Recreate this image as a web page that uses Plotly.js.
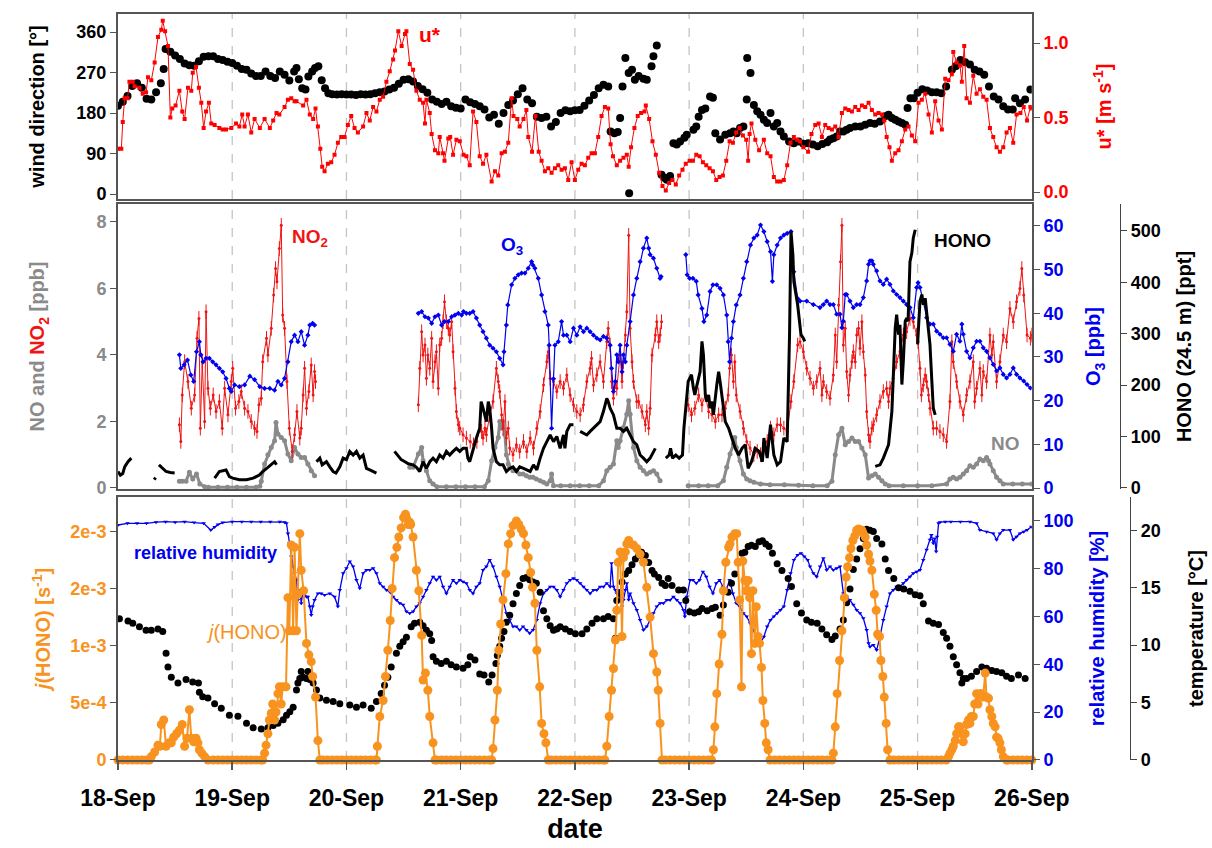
<!DOCTYPE html>
<html>
<head>
<meta charset="utf-8">
<script src="https://cdn.plot.ly/plotly-3.0.1.min.js"></script>
<style>html,body{margin:0;padding:0;background:#fff;}#chart{width:1212px;height:848px;}</style>
</head>
<body>
<div id="chart"></div>
<script>
// ---------- DATA (time = hours after 18-Sep 00:00) ----------
const dayTicks = [0, 24, 48, 72, 96, 120, 144, 168, 192];
const dayLabels = ['18-Sep','19-Sep','20-Sep','21-Sep','22-Sep','23-Sep','24-Sep','25-Sep','26-Sep'];

// wind direction [deg]
const windDir = [[0,196],[1,205],[2,218],[3,240],[4,246],[5,236],[6,212],[7,210],[8,226],[9,246],[9.6,278],[10,322],[11,316],[12,308],[13,300],[14,290],[15,286],[16,285],[17,295],[18,305],[19,306],[20,306],[21,300],[22,298],[23,294],
[24,291],[25,285],[26,278],[27,276],[28,268],[29,262],[30,262],[31,272],[32,262],[33,258],[34,272],[35,265],[36,252],[37,272],[37.5,280],[38,255],[38.7,235],[39.4,232],[40,261],[40.8,272],[41.4,280],[42.1,284],[42.8,253],[43.5,235],[44.2,224],[45,222],[46,221],[47,222],
[48,221],[49,221],[50,220],[51,222],[52,221],[53,222],[54,224],[55,226],[56,228],[57,232],[58,236],[59,245],[60,254],[61,255],[62,250],[63,240],[64,233],[65,225],[66,210],[67,205],[68,200],[69,205],[70,195],[71,192],
[72,190],[73,210],[74,204],[75,200],[76,195],[77,188],[78,170],[79,176],[80,156],[81,180],[82,198],[83,208],[84,222],[85,235],[86,210],[87,202],[88,172],[89,169],[90,172],[91,150],[92,160],[93,180],[94,186],[95,184],
[96,186],[97,187],[98,196],[99,208],[100,220],[101,235],[102,243],[103,239],[103.5,139],[104.3,135],[105,138],[105.5,169],[106,239],[106.6,302],[107.3,269],[107.4,2],[108,276],[108.6,254],[109.4,262],[110.4,256],[111.1,254],[112.1,284],[112.5,306],[113.2,330],[114.2,43],[114.8,36],[115.3,32],[116,40],[116.7,113],[117.4,110],[118.1,117],[119,125],[119.5,132],
[120.9,143],[121.5,150],[122,172],[122.7,187],[123.4,190],[124.4,217],[125,214],[125.5,135],[126.5,121],[127.6,132],[128.6,135],[129.3,139],[130,135],[130.7,147],[131.4,150],[132.1,210],[132.2,302],[132.9,269],[133.6,198],[134.3,184],[135,176],[135.7,165],[136.4,158],[137.1,180],[137.8,150],[138.5,158],[139.2,139],[139.9,128],[141,117],[142,113],[143,117],[144,112],
[145,113],[146,110],[147,106],[148,111],[149,115],[149.6,121],[150.3,124],[151,128],[151.7,139],[152.4,139],[153.1,143],[153.8,147],[154.9,150],[156,150],[157,154],[158,158],[159,156],[160.1,161],[161.2,173],[161.9,176],[162.6,169],[163.3,165],[164,161],[164.7,158],[165.4,154],[165.9,191],[166.5,213],[167.2,213],[168,225],[169,233],[170,230],[171,226],[172,226],[173,224],[174,239],[175.2,276],[176,284],[177,298],[178,293],[179,288],[180,276],[181,272],[182,265],[183,239],[184,217],[185,210],[186,195],[187,188],[188,188],[188.5,213],[189.5,202],[190.6,210],[191.7,232]];

// friction velocity u* [m/s]
const uStar = [[0,0.29],[0.7,0.29],[1,0.47],[1.4,0.63],[2,0.63],[2.4,0.74],[3.1,0.74],[3.5,0.71],[4.5,0.70],[5.2,0.66],[5.9,0.67],[6.3,0.77],[7,0.75],[7.7,0.87],[8.4,1.04],[9.1,1.09],[9.4,1.15],[9.9,1.08],[10.5,0.98],[11,0.50],[11.4,0.56],[12.1,0.58],[12.9,0.68],[13.5,0.54],[14,0.49],[14.7,0.70],[15.4,0.68],[15.7,0.80],[16.4,0.84],[17,0.70],[17.5,0.60],[18,0.43],[18.5,0.54],[19.1,0.60],[19.6,0.46],[20.3,0.45],[21.3,0.43],[22,0.42],[22.7,0.42],[23.8,0.43],[24.8,0.46],[25.5,0.44],[26.1,0.52],[26.6,0.44],[27.3,0.52],[28,0.40],[28.7,0.49],[29.8,0.43],[30.8,0.49],[31.9,0.43],[32.6,0.48],[33.3,0.53],[33.9,0.52],[35,0.57],[35.7,0.62],[36.4,0.63],[37.1,0.61],[37.5,0.61],[38.9,0.58],[39.6,0.62],[40.3,0.52],[41,0.49],[41.5,0.56],[42,0.44],[42.5,0.29],[42.9,0.17],[43.4,0.14],[44.1,0.19],[44.8,0.20],[45.5,0.25],[46.2,0.33],[46.9,0.37],[47.6,0.37],[48.3,0.45],[49,0.51],[49.7,0.43],[50.4,0.40],[51.5,0.44],[52.2,0.53],[52.9,0.48],[53.6,0.57],[54.3,0.54],[55,0.62],[55.7,0.64],[56.4,0.74],[57.1,0.81],[57.8,0.89],[58.2,0.95],[58.9,1.08],[59.6,0.98],[60.3,1.06],[60.6,1.08],[61.3,0.86],[62,0.82],[62.7,0.68],[63.4,0.62],[64.1,0.60],[64.5,0.46],[64.8,0.62],[65.5,0.53],[65.9,0.39],[66.6,0.28],[67.3,0.26],[67.6,0.37],[68.3,0.26],[68.6,0.21],[69.4,0.36],[69.8,0.37],[70.4,0.25],[71.1,0.35],[71.8,0.34],[72.6,0.25],[73.2,0.24],[73.9,0.18],[74.6,0.54],[75.3,0.47],[76,0.24],[76.7,0.19],[77.4,0.25],[78.5,0.07],[79.2,0.14],[79.9,0.11],[80.6,0.26],[81.3,0.27],[82,0.33],[82.7,0.63],[83.1,0.51],[83.9,0.49],[84.4,0.44],[85.2,0.49],[85.8,0.55],[86.2,0.37],[87,0.27],[87.7,0.51],[88.4,0.27],[89,0.21],[89.7,0.14],[90.4,0.16],[91.1,0.13],[91.8,0.16],[92.5,0.18],[93.2,0.15],[93.9,0.16],[94.6,0.08],[95.3,0.20],[96,0.08],[96.7,0.15],[97.4,0.19],[98.1,0.18],[98.8,0.23],[99.5,0.26],[100.2,0.26],[100.9,0.37],[101.6,0.51],[102.3,0.57],[103,0.56],[103.5,0.32],[104,0.24],[104.8,0.18],[105.5,0.21],[106.2,0.23],[106.9,0.25],[107.3,0.17],[107.8,0.30],[108.5,0.43],[109.2,0.51],[109.9,0.53],[110.6,0.54],[110.9,0.58],[111.6,0.49],[112.3,0.34],[113,0.25],[113.7,0.13],[114.4,0.04],[115.1,0.01],[115.8,0.06],[116.5,0.08],[117.2,0.05],[117.9,0.11],[118.6,0.15],[119.3,0.19],[120.1,0.21],[120.8,0.21],[121.5,0.25],[122.2,0.24],[122.9,0.20],[123.6,0.18],[124.3,0.16],[125,0.14],[125.7,0.08],[126.4,0.10],[127.1,0.11],[127.8,0.21],[128.5,0.34],[129.2,0.33],[129.9,0.40],[130.6,0.43],[131.3,0.38],[132,0.35],[132.4,0.21],[132.7,0.39],[133.1,0.46],[133.9,0.35],[134.7,0.28],[135.7,0.35],[136.4,0.26],[137.1,0.24],[137.8,0.10],[138.5,0.07],[139.2,0.07],[139.9,0.08],[140.6,0.18],[141.3,0.33],[142,0.37],[142.7,0.35],[143.3,0.34],[144,0.30],[145,0.27],[145.7,0.39],[146.5,0.45],[147.2,0.46],[147.9,0.37],[148.6,0.45],[149.3,0.43],[150,0.42],[150.7,0.44],[151.4,0.37],[152.1,0.53],[152.8,0.56],[153.5,0.55],[154.2,0.54],[154.9,0.57],[155.6,0.55],[156.3,0.58],[157,0.57],[157.7,0.60],[158.4,0.55],[159.1,0.52],[159.8,0.53],[160.5,0.52],[161,0.48],[161.5,0.37],[162.1,0.30],[162.6,0.21],[163.3,0.26],[164,0.28],[164.7,0.34],[165.4,0.42],[166.1,0.44],[166.8,0.38],[167.5,0.34],[168.2,0.60],[168.9,0.62],[169.6,0.66],[170.3,0.52],[171,0.40],[171.7,0.61],[172.4,0.48],[173.1,0.42],[173.8,0.76],[174.5,0.75],[175.2,0.79],[175.5,0.94],[176.2,0.87],[176.9,0.85],[177.3,0.74],[177.8,0.98],[178.3,0.63],[179,0.60],[179.7,0.78],[180.4,0.66],[181.1,0.69],[181.8,0.64],[182.5,0.62],[183.2,0.43],[183.9,0.37],[184.6,0.30],[185.3,0.27],[186,0.30],[186.7,0.40],[187.4,0.43],[188.1,0.33],[188.8,0.52],[189.6,0.53],[190.3,0.57],[191,0.48],[191.7,0.57],[192,0.56]];

// NO2 [ppb]
const no2 = [[12.9,1.9],[13.2,1.4],[13.5,2.8],[14,3.8],[14.7,3.2],[15.4,2.4],[16.1,2.8],[16.6,4.5],[17,5.1],[17.3,1.8],[17.7,3.8],[18.2,2.0],[18.5,5.3],[18.9,3.0],[19.4,2.4],[20,2.8],[20.6,2.3],[21.3,2.6],[21.9,1.8],[22.4,3.0],[23.1,2.2],[23.8,3.2],[24.1,3.6],[24.7,2.4],[25.4,2.6],[25.9,2.9],[26.6,2.4],[27.3,2.3],[28,2.0],[28.7,1.8],[29.2,1.7],[29.6,2.5],[30.1,2.7],[30.4,3.8],[31.2,4.5],[31.5,4.0],[32.2,4.8],[32.7,5.8],[33.1,6.6],[33.4,6.2],[33.9,7.2],[34.3,7.9],[34.6,5.2],[35,4.8],[35.5,3.2],[36,1.8],[36.6,1.1],[37.1,1.6],[37.6,2.3],[38.2,1.5],[38.5,1.8],[38.9,2.8],[39.2,3.6],[39.6,2.4],[40.1,2.9],[40.6,3.7],[41,2.8],[41.3,3.5],[41.5,3.2],[42,null],
[63.1,2.5],[63.4,3.6],[63.8,4.7],[64.1,4.0],[64.5,4.3],[64.8,3.3],[65.1,4.0],[65.5,3.6],[65.9,4.5],[66.2,3.2],[66.6,3.8],[66.9,4.1],[67.3,3.0],[67.6,4.3],[68,4.5],[68.3,5.0],[68.6,5.6],[69,5.0],[69.4,4.8],[69.7,4.6],[70.1,5.0],[70.4,4.1],[70.8,3.0],[71.1,2.3],[71.5,1.9],[71.8,1.8],[72.5,1.6],[73.2,1.5],[74,1.4],[74.7,1.3],[75.4,1.4],[76.1,1.9],[76.4,1.7],[76.7,1.5],[77.1,1.8],[77.4,1.6],[78.1,2.2],[78.8,2.6],[79.5,3.6],[79.9,3.2],[80.2,2.9],[80.6,2.2],[80.9,1.8],[81.3,2.6],[81.6,1.5],[82,1.8],[82.3,1.2],[83,1.0],[83.7,1.3],[84.4,1.1],[85.2,1.4],[85.9,1.1],[86.6,1.5],[87.3,1.2],[88,1.8],[88.7,2.3],[89.4,3.1],[90.1,3.8],[90.4,4.1],[90.8,3.3],[91.5,3.2],[92.2,2.9],[92.9,3.2],[93.6,3.0],[94.3,3.4],[95,2.8],[95.7,2.5],[96.4,2.3],[97.1,2.2],[97.8,2.5],[98.5,3.2],[99.2,3.6],[99.5,3.9],[99.9,3.1],[100.6,3.4],[101.3,3.8],[102,3.2],[102.7,4.4],[103,4.8],[103.4,4.3],[103.7,3.2],[104.1,2.7],[104.5,3.2],[104.8,3.0],[105.5,4.0],[105.9,3.2],[106.2,3.8],[106.6,4.6],[106.9,5.3],[107.3,7.6],[107.6,4.8],[108,3.8],[108.3,3.2],[109,2.6],[109.4,2.6],[110.1,2.3],[110.8,1.9],[111.1,2.3],[111.5,1.8],[111.8,2.4],[112.2,4.0],[112.9,4.6],[113.2,5.0],[113.6,4.4],[113.9,4.6],[114.2,5.0],[115,null],
[119.8,2.5],[120.5,2.2],[121.2,2.4],[122,2.8],[122.7,2.5],[123.4,2.8],[124.1,2.3],[124.8,2.2],[125.5,2.0],[126.2,2.2],[126.9,2.2],[127.6,2.4],[128.2,2.8],[128.5,3.6],[128.9,4.0],[129.3,3.2],[129.6,3.8],[129.9,2.8],[130.7,2.3],[131.4,1.8],[132.1,1.4],[132.8,1.2],[133.6,1.0],[134.3,1.1],[135,1.0],[135.7,1.2],[136.4,1.4],[137.1,1.8],[137.8,1.6],[138.5,1.9],[139.2,1.9],[139.9,1.8],[140.6,1.7],[141.4,2.6],[142,3.2],[142.8,4.3],[143.3,4.4],[144,4.1],[144.7,3.6],[145.4,3.3],[146.1,3.0],[146.8,3.2],[147.5,3.6],[147.9,2.8],[148.2,3.2],[148.9,2.9],[149.6,2.7],[150.3,3.4],[150.7,4.6],[151,3.8],[151.4,5.5],[151.8,6.8],[152.1,7.9],[152.4,4.3],[152.8,4.8],[153.1,3.5],[153.5,2.8],[153.8,3.4],[154.2,3.8],[154.5,4.1],[154.9,3.8],[155.2,4.6],[155.6,4.8],[155.9,4.2],[156.3,5.0],[156.6,4.1],[157,3.4],[157.3,2.3],[157.7,1.6],[158,1.4],[158.4,1.8],[158.7,1.9],[159.4,2.2],[160.1,2.6],[160.8,2.9],[161.5,3.0],[161.9,2.6],[162.2,3.0],[162.9,3.3],[163.6,3.8],[164.3,4.1],[165,4.6],[165.7,4.7],[166.4,5.1],[167.1,5.0],[167.8,4.6],[168.1,4.4],[168.5,3.6],[168.8,2.8],[169.2,3.1],[169.6,3.4],[169.9,3.2],[170.3,2.8],[170.6,2.4],[171.3,1.8],[172,1.8],[172.7,1.7],[173.4,1.6],[174.1,1.4],[174.8,2.6],[175.2,4.4],[175.5,3.8],[176.2,3.2],[176.9,2.6],[177.6,2.2],[178.3,2.8],[179,3.2],[179.7,3.8],[180,2.6],[180.4,3.0],[181.1,3.6],[181.5,2.8],[181.8,3.5],[182.5,3.2],[183.2,4.6],[183.6,4.0],[183.9,4.4],[184.6,3.2],[185.3,3.8],[186,4.6],[186.7,4.4],[187.4,5.4],[188.1,5.0],[188.8,5.6],[189.5,6.0],[189.9,6.6],[190.3,5.8],[191,4.6],[191.7,4.5],[192,4.6]];

// NO [ppb]
const no = [[12.9,0.2],[13.5,0.2],[14.3,0.2],[15,0.47],[15.7,0.27],[16.5,0.42],[17.2,0.12],[18.2,0.04],[19,0.02],[21,0.02],[23,0.02],[25,0.02],[27,0.02],[29,0.02],[29.8,0.05],[30.1,0.2],[30.8,0.72],[31.5,1.0],[32.2,1.22],[32.9,1.42],[33.2,1.97],[33.6,1.62],[34.3,1.52],[35,1.42],[35.7,1.02],[36.4,0.82],[37.1,1.22],[37.8,1.02],[38.5,0.92],[39.2,0.92],[39.9,0.72],[40.6,0.52],[41.3,0.37],[41.6,null],
[61.3,0.62],[62,0.62],[63.1,1.02],[63.8,1.22],[64.1,0.82],[64.8,0.52],[65.5,0.22],[66.2,0.12],[67,0.04],[69,0.04],[71,0.04],[73,0.04],[75,0.04],[77,0.04],[77.8,0.22],[78.5,0.82],[79.2,1.22],[79.9,1.52],[80.2,2.0],[80.6,1.8],[80.9,2.0],[81.3,1.6],[81.6,1.0],[82,0.72],[82.3,0.62],[83,0.52],[83.7,0.52],[84.4,0.42],[85.1,0.42],[85.8,0.37],[86.5,0.32],[87.2,0.32],[87.9,0.27],[88.7,0.22],[89.4,0.17],[90.1,0.12],[90.8,0.22],[91.1,0.42],[91.5,0.07],[93,0.07],[95,0.07],[97,0.07],[99,0.07],[101,0.07],[102,0.22],[102.7,0.52],[103.4,0.62],[104.1,0.72],[104.8,1.42],[105.1,1.22],[105.5,1.42],[106.2,1.82],[106.9,2.22],[107.3,2.62],[107.6,2.22],[108.3,1.22],[109,0.82],[109.7,0.62],[110.4,0.52],[111.1,0.42],[111.8,0.47],[112.5,0.52],[113.2,0.42],[113.9,0.22],[114.2,null],
[119.8,0.07],[122,0.07],[124,0.07],[126,0.07],[127.2,0.22],[127.9,0.62],[128.6,1.02],[129.3,1.32],[129.6,1.52],[129.9,1.22],[130.7,0.82],[131.4,0.42],[132.1,0.27],[132.8,0.22],[133.6,0.17],[135,0.12],[137,0.1],[140,0.1],[143,0.08],[146,0.07],[149,0.07],[150,0.2],[150.7,1.0],[151.4,1.6],[152.1,1.8],[152.8,1.3],[153.5,1.4],[154.2,1.5],[154.9,1.4],[155.6,1.4],[156.3,1.2],[157,1.0],[157.7,0.3],[158.4,0.37],[159.1,0.42],[159.8,0.32],[160.5,0.22],[161.2,0.12],[162,0.07],[165,0.07],[168,0.07],[171,0.07],[174.1,0.12],[174.8,0.27],[175.5,0.32],[176.2,0.27],[176.9,0.32],[177.6,0.42],[178.3,0.52],[179,0.67],[179.7,0.62],[180.4,0.72],[181.1,0.87],[181.8,0.82],[182.5,0.92],[182.9,0.82],[183.2,0.72],[183.9,0.52],[184.6,0.32],[185.3,0.22],[186,0.12],[188,0.12],[190,0.12],[192,0.12]];

// O3 [ppb]
const o3 = [[12.9,30.5],[13.2,27.4],[13.9,28.2],[14.6,29.3],[15.3,25.9],[15.9,24.4],[16.5,31.2],[17.1,33.5],[17.4,30.5],[17.9,28.9],[18.5,29.7],[19.2,29.7],[19.9,28.9],[20.6,28.2],[21.3,27.4],[22,26.6],[22.7,25.1],[23.4,22.8],[23.8,22.1],[24.5,23.6],[25.5,23.2],[26.6,23.6],[27.7,25.6],[28.7,24.8],[29.8,23.2],[30.8,22.8],[31.9,22.8],[32.9,22.4],[33.6,24.4],[34.3,23.6],[35,25.1],[35.7,28.9],[36.4,33.5],[37.1,35.0],[37.8,33.5],[38.5,35.8],[39.2,32.7],[39.9,35.0],[40.3,37.3],[40.9,37.7],[41.3,37.3],[42,null],
[63.1,40.0],[63.8,40.4],[64.5,39.2],[65.2,38.9],[65.9,37.7],[66.6,39.2],[67.3,39.6],[68,37.3],[68.6,38.1],[69.4,38.1],[70.1,39.2],[70.8,39.6],[71.5,40.0],[72.2,39.6],[72.6,40.4],[73.2,40.0],[73.9,40.0],[74.6,40.4],[75.3,38.9],[76,37.3],[76.7,35.8],[77.4,34.3],[78.1,32.7],[78.8,32.0],[79.5,31.2],[80.2,29.7],[80.9,28.2],[81.1,31.2],[81.6,37.3],[81.9,41.9],[82.7,46.5],[83.4,48.0],[84.1,48.8],[84.8,49.2],[85.5,49.2],[86.2,50.3],[86.9,51.8],[87.2,51.0],[87.6,50.3],[88.3,48.0],[89,44.2],[89.7,40.4],[90.4,37.3],[90.6,32.7],[91.1,13.7],[91.5,25],[91.8,32.7],[92.5,33.5],[93.2,38.1],[93.6,35.0],[94.3,35.0],[95,33.5],[95.7,36.6],[96.4,35.0],[97.1,36.9],[97.8,35.8],[98.5,36.6],[99.2,35.8],[99.9,35.0],[100.6,34.3],[101.3,33.9],[102,34.7],[102.7,34.3],[103.4,32.7],[103.7,27.4],[104.1,22.1],[104.5,24.4],[104.8,30.5],[105.1,28.9],[105.5,32.7],[105.9,26.6],[106.2,30.5],[106.6,28.9],[106.9,32.7],[107.6,38.1],[108.3,44.2],[109,48.0],[109.7,51.8],[110.4,54.9],[111.1,57.2],[111.5,54.9],[111.8,53.4],[112.5,52.6],[113.2,50.3],[113.9,48.0],[114.1,48.4],[115,null],
[119.3,53.4],[119.6,48.8],[120.1,48.0],[120.8,48.0],[121.5,47.3],[121.9,44.2],[122.7,41.1],[123.1,38.1],[123.7,39.6],[124.4,45.0],[125,46.5],[125.8,46.5],[126.5,45.7],[127.2,44.2],[127.9,39.6],[128.2,33.5],[128.5,28.9],[128.9,34.3],[129.3,38.1],[129.9,41.9],[130.7,44.2],[131.4,48.0],[132.1,51.8],[132.9,55.6],[133.6,57.2],[134.3,57.9],[135,60.2],[135.7,58.7],[136.4,56.4],[137.1,54.1],[137.5,47.3],[137.8,53.4],[138.5,55.6],[139.2,57.2],[139.9,57.9],[140.6,58.3],[141.4,58.7],[142,49.5],[142.8,43.4],[143.3,42.8],[144.7,42.8],[146.1,42.0],[147.5,41.3],[148.2,42.0],[148.9,42.8],[149.6,42.0],[150.3,42.0],[151,39.8],[151.7,39.8],[152.1,36.7],[152.4,38.2],[152.8,44.3],[153.1,44.3],[153.8,42.8],[154.5,41.3],[155.2,42.0],[155.9,42.0],[156.6,43.6],[157.3,47.4],[157.7,51.2],[158,52.0],[158.4,52.0],[158.7,51.2],[159.4,49.7],[160.1,47.4],[160.8,46.6],[161.5,47.8],[162.2,46.6],[162.9,45.1],[163.6,44.3],[164.3,43.6],[165,42.8],[165.7,42.0],[166.4,41.3],[167.1,39.0],[167.8,45.9],[168.1,47.0],[168.5,45.9],[169.2,42.8],[169.9,39.0],[170.6,37.5],[171.3,37.5],[172,35.9],[172.7,35.2],[173.4,34.4],[174.1,34.4],[174.8,32.9],[175.5,31.3],[176.2,35.2],[176.9,33.6],[177.3,37.5],[177.6,35.2],[178.3,31.3],[179,29.8],[179.7,32.1],[180.4,33.6],[181.1,33.6],[181.8,32.1],[182.5,31.3],[183.2,29.8],[183.9,28.3],[184.6,26.8],[185.3,27.5],[186,26.0],[186.7,25.2],[187.4,26.0],[188.1,27.5],[188.8,26.0],[189.5,25.2],[190.3,24.5],[191,23.7],[191.7,22.9]];

// HONO (24.5 m) [ppt]
const hono = [[0,32],[0.5,25],[1,28],[1.4,41],[2.1,51],[2.8,58],[3,null],
[7.6,16],[7.9,20],[8.1,null],[8.6,45],[9.4,38],[10.1,32],[11,30],[11.9,29],[12.2,null],
[20.3,19],[21.3,32],[22.7,35],[23.4,22],[24.1,19],[25.5,16],[27,16],[28.4,19],[29.7,25],[30.4,32],[31.5,40],[32.9,51],[33.3,45],[33.6,null],
[41.7,51],[42.4,58],[42.9,45],[43.8,51],[44.5,41],[45.2,32],[45.8,29],[46.6,41],[47.3,58],[48,55],[48.7,71],[49.4,64],[50.1,71],[50.8,58],[51.5,64],[52.2,38],[52.9,35],[53.6,32],[54.3,29],[54.6,null],
[58.1,71],[58.8,62],[59.5,55],[60.3,51],[61,47],[62,45],[62.7,40],[63.4,32],[64.1,51],[64.8,38],[65.5,51],[66.2,58],[66.9,51],[67.6,64],[68.3,58],[69,71],[69.7,64],[70.4,71],[71.1,77],[71.8,71],[72.5,77],[73.2,77],[73.5,58],[73.9,51],[74.3,64],[74.6,77],[75.3,97],[76,116],[76.3,168],[76.7,155],[77.4,129],[77.8,168],[78.1,155],[78.5,116],[78.8,77],[79.5,51],[80.2,45],[80.9,45],[81.6,32],[82.3,38],[83,41],[83.7,32],[84.4,41],[85.2,38],[85.9,35],[86.6,32],[87.3,45],[88,35],[88.7,58],[89.4,77],[90.1,90],[90.8,103],[91.5,90],[92.2,100],[92.9,77],[93.6,103],[93.9,77],[94.3,110],[95,123],[95.7,123],[96,null],
[97.1,110],[97.8,107],[98.5,103],[99.2,110],[99.9,116],[100.6,123],[101.3,129],[102,149],[102.7,174],[103,168],[103.4,155],[104.1,142],[104.8,116],[105.5,116],[106.2,110],[106.9,116],[107.6,103],[108.3,90],[109,84],[109.7,64],[110.4,58],[111.1,51],[111.8,58],[112.5,71],[112.9,77],[113.2,null],
[115.1,58],[115.8,64],[116.1,77],[116.5,58],[117.2,64],[117.9,58],[118.6,64],[118.9,116],[119.8,207],[120.5,220],[120.9,194],[121.2,181],[121.5,194],[122.3,226],[122.7,285],[123,259],[123.4,181],[123.7,168],[124.1,181],[124.4,155],[124.8,168],[125.1,142],[125.8,200],[126.2,226],[126.5,207],[126.9,181],[127.6,129],[128.3,116],[129,97],[129.7,77],[130.4,64],[131.1,77],[131.8,84],[132.4,38],[133.1,51],[133.9,77],[134.7,71],[135.4,51],[135.7,97],[136.4,58],[137.1,123],[137.8,64],[138.5,45],[139.2,51],[139.9,97],[140.6,90],[141.1,300],[141.4,499],[141.8,453],[142,401],[142.8,356],[143.5,298],[144,291],[144.3,285],[144.6,null],
[159.1,42],[160.1,45],[160.8,58],[161.9,84],[162.6,149],[162.9,214],[163.3,311],[163.6,337],[164,298],[164.3,317],[164.7,201],[165,246],[165.4,324],[165.7,330],[166,324],[166.4,440],[166.8,457],[167.1,486],[167.5,502],[167.7,null],
[168,279],[168.2,311],[168.5,363],[168.9,376],[169.2,356],[169.6,369],[170.3,311],[170.6,279],[171,207],[171.3,155],[171.7,142]];

// j(HONO) [1e-3 s-1]
const jHono = [[0,0],[1,0],[2,0],[3,0],[4,0],[5,0],[6,0],[6.6,0],[7,0.03],[7.7,0.07],[8.4,0.13],[8.8,0.12],[9.1,0.31],[9.6,0.35],[10.1,0.12],[10.7,0.15],[11.2,0.15],[11.7,0.20],[12.3,0.23],[12.9,0.26],[13.5,0.31],[14,0.12],[14.5,0.19],[15,0.44],[15.4,0.19],[15.9,0.16],[16.4,0.19],[16.8,0.15],[17.1,0.09],[17.6,0.06],[18.2,0.03],[18.9,0],[20,0],[21,0],[22,0],[23,0],[24,0],[25,0],[26,0],[27,0],[28,0],[29,0],[30,0],[30.4,0],
[30.8,0.06],[31.1,0.13],[31.5,0.23],[31.8,0.35],[32.2,0.41],[32.5,0.49],[32.9,0.35],[33.2,0.42],[33.6,0.58],[33.9,0.64],[34.3,0.49],[34.6,0.64],[35.3,0.64],[35.7,1.42],[36,1.13],[36.4,1.88],[36.8,1.13],[37.1,1.86],[37.5,1.13],[37.8,1.45],[38.2,1.98],[38.5,1.66],[39,1.48],[39.6,1.02],[40.1,0.92],[40.6,0.86],[40.9,0.73],[41.5,0.55],[42,0.17],[42.4,0],[43,0],[44,0],[45,0],[46,0],[47,0],[48,0],[49,0],[50,0],[51,0],[52,0],[53,0],[54,0],[54.3,0],
[54.5,0.12],[55,0.38],[55.7,0.52],[56.2,0.73],[56.7,0.96],[57.2,1.22],[57.6,1.50],[58.1,1.77],[58.6,1.86],[59,1.95],[59.5,2.03],[60,2.12],[60.4,2.15],[60.6,2.12],[61,2.06],[61.3,2.08],[61.5,2.06],[62,1.95],[62.7,1.66],[63.2,1.48],[63.8,1.09],[64.1,0.70],[64.6,0.76],[65.1,0.61],[65.5,0.38],[66.2,0.15],[66.6,0],[67,0],[68,0],[69,0],[70,0],[71,0],[72,0],[73,0],[74,0],[75,0],[76,0],[77,0],[78,0],[78.5,0],
[78.8,0.10],[79.2,0.35],[79.7,0.61],[80,0.96],[80.4,1.19],[80.9,1.40],[81.5,1.63],[82,1.89],[82.5,1.98],[83,2.05],[83.7,2.09],[84.2,2.06],[84.7,2.02],[85.2,1.98],[85.7,1.88],[86.2,1.77],[86.7,1.64],[87.1,1.51],[87.6,1.37],[88,0.96],[88.6,0.64],[89,0.32],[89.5,0.23],[89.9,0.15],[90.4,0],[91,0],[92,0],[93,0],[94,0],[95,0],[96,0],[97,0],[98,0],[99,0],[100,0],[101,0],[102,0],[102.3,0],
[102.7,0.12],[103.2,0.38],[103.7,0.61],[104.1,0.80],[104.5,1.05],[104.8,1.31],[105.1,1.73],[105.5,1.82],[105.9,1.08],[106.2,1.77],[106.6,1.82],[106.9,1.89],[107.3,1.92],[107.6,1.89],[108.3,1.88],[109,1.85],[109.7,1.80],[110.4,1.73],[111.1,1.51],[111.8,1.25],[112.5,0.93],[113.2,0.77],[113.5,0.61],[113.9,0.32],[114.3,0],[115,0],[116,0],[117,0],[118,0],[119,0],[120,0],[121,0],[122,0],[123,0],[124,0],[124.7,0],
[125.1,0.09],[125.4,0.29],[125.8,0.58],[126.3,0.84],[126.9,1.10],[127.2,1.48],[127.7,1.73],[128.3,1.86],[128.6,1.89],[129,1.95],[129.6,1.98],[130,1.98],[130.3,1.73],[130.6,1.40],[131,0.64],[131.3,1.74],[131.7,1.57],[132,1.48],[132.4,1.57],[132.7,1.42],[133.1,0.93],[133.4,1.48],[133.8,1.02],[134.1,1.34],[134.5,1.08],[134.8,1.02],[135.2,0.81],[135.5,0.52],[135.9,0.32],[136.2,0.15],[136.6,0.09],[137,0],[138,0],[139,0],[140,0],[141,0],[142,0],[143,0],[144,0],[145,0],[146,0],[147,0],[148,0],[149,0],[150,0],
[150.3,0.06],[150.7,0.29],[151.1,0.58],[151.6,0.87],[152.1,1.13],[152.6,1.42],[153,1.60],[153.3,1.69],[153.7,1.77],[154,1.85],[154.4,1.92],[154.8,1.96],[155.2,2.01],[155.6,2.02],[155.9,2.01],[156.3,2.01],[156.6,1.98],[157,1.95],[157.3,1.88],[157.7,1.80],[158,1.74],[158.4,1.66],[158.9,1.45],[159.3,1.31],[159.6,1.10],[160,1.08],[160.3,0.87],[160.7,0.73],[161,0.55],[161.4,0.32],[161.7,0.09],[162.2,0],[163,0],[164,0],[165,0],[166,0],[167,0],[168,0],[169,0],[170,0],[171,0],[172,0],[173,0],[174,0],
[174.5,0.03],[174.8,0.06],[175.2,0.09],[175.5,0.12],[175.9,0.17],[176.2,0.23],[176.6,0.29],[176.9,0.29],[177.3,0.23],[177.6,0.16],[178,0.23],[178.3,0.31],[178.7,0.35],[179,0.32],[179.3,0.38],[179.7,0.38],[180,0.49],[180.4,0.58],[180.7,0.49],[181.1,0.58],[181.4,0.58],[181.8,0.55],[182.2,0.76],[182.5,0.55],[182.9,0.54],[183.2,0.44],[183.6,0.38],[183.9,0.32],[184.3,0.29],[184.6,0.20],[184.9,0.19],[185.3,0.15],[185.6,0.09],[186,0.03],[186.7,0],[187,0],[188,0],[189,0],[190,0],[191,0],[192,0]];

// relative humidity [%]
const rh = [[0,98.3],[2,99.0],[4,99.0],[6,99.0],[8,99.5],[10,99.7],[12,99.5],[14,99.7],[16,99.3],[18,99.0],[19.5,96.2],[20.3,97.5],[21,98.5],[22,99.3],[24,99.7],[26,99.7],[28,99.7],[30,99.7],[32,99.7],[34,99.7],[35,99.5],[35.4,99.0],[35.7,94.8],[36,90.7],[36.4,85.1],[36.8,80.9],[37.1,78.1],[37.5,75.3],[37.8,66.9],[38.2,71.1],[38.5,65.6],[38.9,71.1],[39.2,69.7],[39.6,68.3],[39.9,68.3],[40.3,64.2],[40.6,60.7],[40.9,64.2],[41.3,66.9],[42,69.7],[42.7,69.7],[43.4,69.0],[44.5,69.7],[45.5,68.3],[46.2,64.2],[46.6,71.1],[47.3,78.1],[48,80.2],[48.7,83.0],[49.4,80.9],[50.1,75.3],[50.8,71.8],[51.5,78.1],[52.2,79.5],[52.9,79.5],[53.6,80.2],[54.3,78.1],[55,73.9],[55.7,72.5],[56.4,71.1],[57.1,70.4],[57.8,68.3],[58.5,66.9],[59.2,65.6],[59.9,64.9],[60.6,62.1],[61.3,61.4],[62,62.1],[62.7,64.2],[63.4,65.6],[64.1,68.3],[64.8,71.1],[65.5,73.9],[66.2,76.7],[66.9,75.3],[67.6,76.7],[68.3,72.5],[69,69.7],[69.7,72.5],[70.4,75.3],[71.1,73.9],[71.8,75.3],[72.5,74.6],[73.2,73.9],[73.9,71.1],[74.6,69.7],[75.3,72.5],[76,73.9],[76.7,79.5],[77.4,80.9],[78.1,83.7],[78.8,80.9],[79.5,76.7],[80.2,72.5],[80.9,66.9],[81.6,61.4],[82.3,58.6],[83,55.8],[83.7,55.8],[84.4,54.4],[85.1,55.8],[85.8,54.4],[86.5,53.0],[87.2,54.4],[88,58.6],[88.7,65.6],[89.4,69.7],[90.1,71.1],[90.8,72.5],[91.5,72.5],[92.2,71.1],[92.9,68.3],[93.6,71.1],[94.3,73.9],[95,75.3],[95.7,76.0],[96.4,75.3],[97.1,73.9],[97.8,72.5],[98.5,71.1],[99.2,69.7],[99.9,71.1],[100.6,71.1],[101.3,72.5],[102,72.5],[102.7,73.9],[103.4,72.5],[103.7,82.3],[104.1,72.5],[104.5,71.1],[104.8,69.7],[105.2,71.1],[105.5,68.3],[105.9,64.2],[106.2,66.9],[106.6,71.1],[106.9,73.9],[107.3,67.0],[107.6,69.7],[108.3,65.6],[109,62.8],[109.7,58.6],[110.4,54.4],[111.1,55.8],[111.8,58.6],[112.5,61.4],[113.2,64.2],[113.9,65.6],[114.6,65.6],[115.3,66.9],[116,66.9],[116.7,68.3],[117.4,66.9],[118.1,65.6],[118.8,62.8],[119.1,60.0],[119.5,68.3],[120.2,75.3],[120.8,75.3],[121.5,73.9],[122.2,75.3],[122.9,78.8],[123.6,76.7],[124.3,72.5],[125,69.7],[125.7,73.9],[126.4,75.3],[127.1,72.5],[127.8,71.1],[128.5,75.3],[129.2,69.7],[129.9,65.6],[130.6,64.2],[131.4,61.4],[132.1,60.0],[132.8,57.2],[133.5,54.4],[134.3,50.2],[135,48.8],[135.7,51.6],[136.4,55.8],[137.1,58.6],[137.8,60.0],[138.5,61.4],[139.2,62.8],[139.9,64.2],[140.6,71.1],[141.3,78.1],[142,83.7],[142.8,85.8],[143.5,86.5],[144.2,85.1],[144.9,83.7],[145.4,80.9],[146.1,78.1],[146.8,76.7],[147.5,80.9],[148.2,84.4],[148.9,79.5],[149.6,80.9],[150.3,79.5],[151,80.2],[151.7,80.9],[152.4,69.7],[153.1,68.3],[153.8,66.9],[154.5,64.9],[155.2,62.8],[155.9,61.4],[156.6,59.3],[157.3,54.4],[157.7,48.8],[158,47.4],[158.7,48.1],[159.4,46.0],[160.1,51.6],[160.8,58.6],[161.5,64.2],[162.2,69.7],[162.9,71.1],[163.6,72.5],[164.3,72.5],[165,73.9],[165.7,75.3],[166.4,76.7],[167.1,78.1],[167.8,78.8],[168.5,79.5],[169.2,83.7],[169.9,87.9],[170.6,92.1],[170.9,94.1],[171.3,90.7],[171.6,92.7],[171.9,87.2],[172.1,93.4],[172.4,99.0],[172.7,99.5],[173.8,99.7],[175,99.7],[177,99.7],[179,99.7],[180.4,99.0],[181.1,96.2],[182.5,95.5],[183.9,94.8],[184.6,92.1],[185.3,94.8],[186,96.2],[187.4,96.2],[188.1,92.1],[188.8,93.4],[189.5,94.8],[190.3,95.5],[191,96.2],[191.9,97.6]];

// temperature [degC]
const temp = [[0.3,12.3],[2.1,12.1],[3.1,11.9],[4.5,11.6],[5.9,11.3],[7,11.3],[8.4,11.4],[9.4,11.2],[10.1,9.3],[10.5,8.1],[11.2,7.2],[12.6,6.7],[14.3,7.0],[15.7,6.8],[16.9,6.7],[17.1,5.9],[17.8,5.5],[18.9,5.4],[20.3,4.9],[21.7,4.5],[23.4,3.9],[25.2,3.8],[27,3.2],[28.4,2.8],[30.1,2.7],[31.5,2.8],[32.6,3.0],[33.6,3.2],[34.7,3.5],[35.4,3.9],[36.1,4.2],[36.8,4.6],[37.5,6.1],[37.8,6.7],[38.2,7.1],[38.5,7.7],[38.9,7.2],[39.6,7.1],[39.9,7.7],[40.3,7.0],[41,6.7],[41.7,6.1],[42.4,5.4],[43.8,5.2],[45.2,5.1],[46.6,4.9],[48.7,4.8],[50.1,4.6],[51.5,4.8],[53.2,4.5],[54.3,5.1],[55.3,5.8],[56,6.5],[56.7,7.2],[57.4,8.1],[58.5,9.3],[59.2,9.9],[59.9,10.3],[60.6,10.7],[61.6,11.6],[62.3,11.9],[63.4,12.0],[64.1,11.7],[64.8,11.3],[65.5,11.0],[65.9,10.4],[66.2,9.0],[66.9,8.6],[67.9,8.4],[69,8.6],[70,8.3],[71.1,8.1],[72.5,8.0],[73.5,8.3],[74,9.0],[75,8.7],[76,7.5],[76.9,7.4],[77.9,6.8],[78.6,7.4],[79.4,8.4],[79.7,9.1],[80.2,9.9],[80.6,10.6],[81.1,11.2],[81.6,12.0],[82.3,12.6],[83,13.6],[83.7,14.5],[84.4,15.2],[85.1,15.8],[85.8,15.9],[86.5,15.7],[87.2,15.5],[87.9,15.4],[88.7,14.6],[89.4,13.0],[90.1,12.3],[90.8,11.7],[91.5,11.3],[92.2,11.4],[92.9,11.6],[94,11.4],[95,11.2],[96.1,11.0],[97.5,11.0],[98.5,11.4],[99.6,11.9],[100.6,12.3],[102,12.3],[103,12.5],[104.1,12.3],[104.5,10.6],[104.8,13.9],[105.5,14.5],[105.9,15.5],[106.6,16.2],[107.3,16.5],[108,17.0],[108.7,17.5],[109.4,17.8],[110,18.1],[110.8,17.8],[111.5,17.2],[112.2,16.5],[112.7,16.2],[113.6,15.9],[114.3,15.4],[115,15.2],[115.6,15.8],[116.4,15.2],[117.8,14.8],[118.8,14.8],[119.3,13.9],[120.1,12.9],[121.1,12.8],[122,12.9],[122.7,13.2],[123.8,13.0],[124.8,13.2],[125.5,13.3],[126.5,12.6],[127.2,13.5],[128.2,14.6],[128.9,15.4],[129.6,16.2],[130.3,17.2],[131.1,18.0],[131.7,18.1],[132.4,18.6],[133.1,18.7],[133.9,18.6],[134.7,19.0],[135.4,19.1],[136.1,18.8],[136.8,18.6],[137.5,18.0],[138.5,17.1],[139.5,16.5],[140.8,15.8],[141.5,15.1],[142.6,13.6],[143.6,12.8],[144.7,12.2],[145.7,12.0],[146.9,11.9],[147.9,11.4],[148.9,10.9],[150,10.5],[150.7,10.8],[151.7,11.4],[152.4,12.2],[153.1,13.7],[153.8,14.9],[154.5,16.6],[155.2,17.5],[155.9,18.4],[156.6,19.3],[157.3,20.1],[158,20.0],[158.7,19.9],[159.4,19.3],[160.5,18.8],[161.2,17.5],[161.9,16.5],[163,15.8],[164,15.0],[165.1,14.9],[166.4,14.7],[167.5,14.4],[168.5,14.3],[169.2,13.6],[170.3,12.1],[171.3,11.9],[172.4,11.8],[173.4,11.1],[174.1,10.6],[174.8,9.9],[175.5,9.0],[176.2,8.3],[176.9,7.6],[177.3,6.7],[177.6,7.1],[178.3,7.1],[179.3,7.3],[180.4,7.7],[181.5,8.1],[182.5,8.0],[183.6,7.8],[184.6,7.7],[185.7,7.6],[186.7,7.3],[187.7,7.1],[189.2,7.4],[190.6,7.1]];

// ---------- helpers ----------
function toDate(h){
  const d = new Date(Date.UTC(2015, 8, 18) + Math.round(h * 3600000));
  return d.toISOString().slice(0, 19).replace('T', ' ');
}
const xs = a => a.map(p => toDate(p[0]));
const ys = a => a.map(p => p[1]);

const RED = '#f01414', BLUE = '#0000f0', ORANGE = '#f7931e', GRAY = '#8a8a8a', FRAME = '#555555';
const FONT = 'Liberation Sans, Arial, sans-serif';

const traces = [
  {x: xs(windDir), y: ys(windDir), xaxis:'x3', yaxis:'y', mode:'markers', type:'scatter',
   marker:{color:'#000', size:8}},
  {x: xs(uStar), y: ys(uStar), xaxis:'x3', yaxis:'y2', mode:'lines+markers', type:'scatter',
   line:{color:'#ff0000', width:1}, marker:{color:'#ff0000', size:4, symbol:'square'}},
  {x: xs(no), y: ys(no), xaxis:'x2', yaxis:'y3', mode:'lines+markers', type:'scatter',
   line:{color:GRAY, width:3}, marker:{color:GRAY, size:5}},
  {x: xs(no2), y: ys(no2), xaxis:'x2', yaxis:'y3', mode:'lines+markers', type:'scatter',
   line:{color:RED, width:1}, marker:{color:RED, size:3},
   error_y:{type:'constant', value:0.22, color:RED, thickness:1, width:0}},
  {x: xs(o3), y: ys(o3), xaxis:'x2', yaxis:'y4', mode:'lines+markers', type:'scatter',
   line:{color:BLUE, width:1.2}, marker:{color:BLUE, size:4, symbol:'diamond'}},
  {x: xs(hono), y: ys(hono), xaxis:'x2', yaxis:'y5', mode:'lines', type:'scatter',
   line:{color:'#000', width:3}},
  {x: xs(rh), y: ys(rh), xaxis:'x', yaxis:'y6', mode:'lines+markers', type:'scatter',
   line:{color:BLUE, width:1.3}, marker:{color:BLUE, size:4, symbol:'triangle-down'}},
  {x: xs(temp), y: ys(temp), xaxis:'x', yaxis:'y7', mode:'markers', type:'scatter',
   marker:{color:'#000', size:7}},
  {x: xs(jHono), y: jHono.map(p => p[1] * 1e-3), xaxis:'x', yaxis:'y8', mode:'lines+markers', type:'scatter',
   line:{color:ORANGE, width:2}, marker:{color:ORANGE, size:9}, cliponaxis:false}
];

const tickFont = c => ({family: FONT, size: 18, color: c, weight: 'bold'});
const titleFont = c => ({family: FONT, size: 20, color: c, weight: 'bold'});
const xTickVals = dayTicks.map(toDate);
const xRange = [toDate(0), toDate(192)];

const xBase = {
  type:'date', range: xRange, domain:[0, 0.843], tickvals: xTickVals, ticktext: dayLabels,
  showgrid:false, showline:true, linecolor:FRAME, linewidth:2, mirror:true, zeroline:false
};

// dashed day gridlines in each panel (positions from the day ticks, through the x scale)
const gridShapes = [];
['y domain', 'y3 domain', 'y6 domain'].forEach((yr, i) => {
  const xr = ['x3', 'x2', 'x'][i];
  dayTicks.slice(1, -1).forEach(h => {
    gridShapes.push({type:'line', xref: xr, yref: yr, x0: toDate(h), x1: toDate(h), y0: 0, y1: 1,
      line:{color:'#c4c4c4', width:1.3, dash:'dash'}, layer:'below'});
  });
});

const ann = (x, y, text, font) => ({xref:'paper', yref:'paper', x, y, text, showarrow:false,
  xanchor:'center', yanchor:'middle', font});

const layout = {
  width:1212, height:848, showlegend:false,
  paper_bgcolor:'#fff', plot_bgcolor:'#fff',
  margin:{l:118, r:10, t:14, b:88},
  font:{family: FONT},
  xaxis: Object.assign({}, xBase, {anchor:'y6', ticks:'outside', ticklen:8, tickcolor:FRAME, tickwidth:1.5,
    ticklabelstandoff:8,
    tickfont:{family: FONT, size:23, color:'#000', weight:'bold'},
    title:{text:'date', font:{family: FONT, size:27, color:'#000', weight:'bold'}, standoff:10}}),
  xaxis2: Object.assign({}, xBase, {anchor:'y3', matches:'x', showticklabels:false, ticks:''}),
  xaxis3: Object.assign({}, xBase, {anchor:'y', matches:'x', showticklabels:false, ticks:''}),

  // top panel
  yaxis: {domain:[0.752, 1], anchor:'x3', range:[-11, 400], tickvals:[0,90,180,270,360],
    ticks:'outside', ticklen:6, tickcolor:FRAME, showgrid:false, zeroline:false,
    showline:true, linecolor:FRAME, linewidth:2, mirror:true, tickfont: tickFont('#000'),
    title:{text:'wind direction [°]', font: titleFont('#000'), standoff:26}},
  yaxis2: {overlaying:'y', side:'right', anchor:'x3', range:[-0.047, 1.195], tickvals:[0,0.5,1],
    ticktext:['0.0','0.5','1.0'], ticks:'outside', ticklen:6, tickcolor:FRAME, showgrid:false, zeroline:false,
    showline:true, linecolor:FRAME, linewidth:2, tickfont: tickFont('#ff0000'),
    title:{text:'u* [m s<sup>-1</sup>]', font: titleFont('#ff0000'), standoff:30}},

  // middle panel
  yaxis3: {domain:[0.3633, 0.7453], anchor:'x2', range:[-0.03, 8.54], tickvals:[0,2,4,6,8],
    ticks:'outside', ticklen:6, tickcolor:FRAME, showgrid:false, zeroline:false,
    showline:true, linecolor:FRAME, linewidth:2, mirror:true, tickfont: tickFont(GRAY),
    title:{text:'NO and <span style="color:#f01414">NO<sub>2</sub></span> [ppb]', font: titleFont(GRAY), standoff:46}},
  yaxis4: {overlaying:'y3', side:'right', anchor:'x2', range:[-0.2, 65], tickvals:[0,10,20,30,40,50,60],
    ticks:'outside', ticklen:6, tickcolor:FRAME, showgrid:false, zeroline:false,
    showline:true, linecolor:FRAME, linewidth:2, tickfont: tickFont(BLUE),
    title:{text:'O<sub>3</sub> [ppb]', font: titleFont(BLUE), standoff:24}},
  yaxis5: {overlaying:'y3', side:'right', anchor:'free', position:0.9244, range:[-2, 552],
    tickvals:[0,100,200,300,400,500], ticks:'outside', ticklen:6, tickcolor:'#444', showgrid:false, zeroline:false,
    showline:true, linecolor:'#444', linewidth:1.2, tickfont: tickFont('#000'),
    title:{text:'HONO (24.5 m) [ppt]', font: titleFont('#000'), standoff:17}},

  // bottom panel
  yaxis6: {domain:[0, 0.3525], anchor:'x', side:'right', range:[0, 110], tickvals:[0,20,40,60,80,100],
    ticks:'outside', ticklen:6, tickcolor:FRAME, showgrid:false, zeroline:false,
    showline:true, linecolor:FRAME, linewidth:2, mirror:true, tickfont: tickFont(BLUE),
    title:{text:'relative humidity [%]', font: titleFont(BLUE), standoff:18}},
  yaxis7: {overlaying:'y6', side:'right', anchor:'free', position:0.9336, range:[0, 22.9],
    tickvals:[0,5,10,15,20], ticks:'outside', ticklen:6, tickcolor:'#444', showgrid:false, zeroline:false,
    showline:true, linecolor:'#444', linewidth:1.2, tickfont: tickFont('#000'),
    title:{text:'temperature [°C]', font: titleFont('#000'), standoff:29}},
  yaxis8: {overlaying:'y6', side:'left', anchor:'x', range:[0, 0.0023],
    tickvals:[0, 0.0005, 0.001, 0.0015, 0.002], ticktext:['0','5e-4','1e-3','2e-3','2e-3'],
    ticks:'outside', ticklen:6, tickcolor:FRAME, showgrid:false, zeroline:false,
    showline:true, linecolor:FRAME, linewidth:2, tickfont: tickFont(ORANGE),
    title:{text:'<i>j</i>(HONO) [s<sup>-1</sup>]', font: titleFont(ORANGE), standoff:14}},

  shapes: gridShapes,
  annotations: [
    ann(0.2878, 0.972, 'u*', {family: FONT, size:21, color:'#ff0000', weight:'bold'}),
    ann(0.1771, 0.6997, 'NO<sub>2</sub>', {family: FONT, size:19, color:RED, weight:'bold'}),
    ann(0.3635, 0.689, 'O<sub>3</sub>', {family: FONT, size:19, color:BLUE, weight:'bold'}),
    ann(0.7786, 0.697, 'HONO', {family: FONT, size:19, color:'#000', weight:'bold'}),
    ann(0.8183, 0.4249, 'NO', {family: FONT, size:19, color:GRAY, weight:'bold'}),
    ann(0.0803, 0.2775, 'relative humidity', {family: FONT, size:18, color:BLUE, weight:'bold'}),
    ann(0.119, 0.1716, '<i>j</i>(HONO)', {family: FONT, size:20, color:ORANGE})
  ]
};

Plotly.newPlot('chart', traces, layout, {staticPlot:true, displayModeBar:false});
</script>
</body>
</html>
